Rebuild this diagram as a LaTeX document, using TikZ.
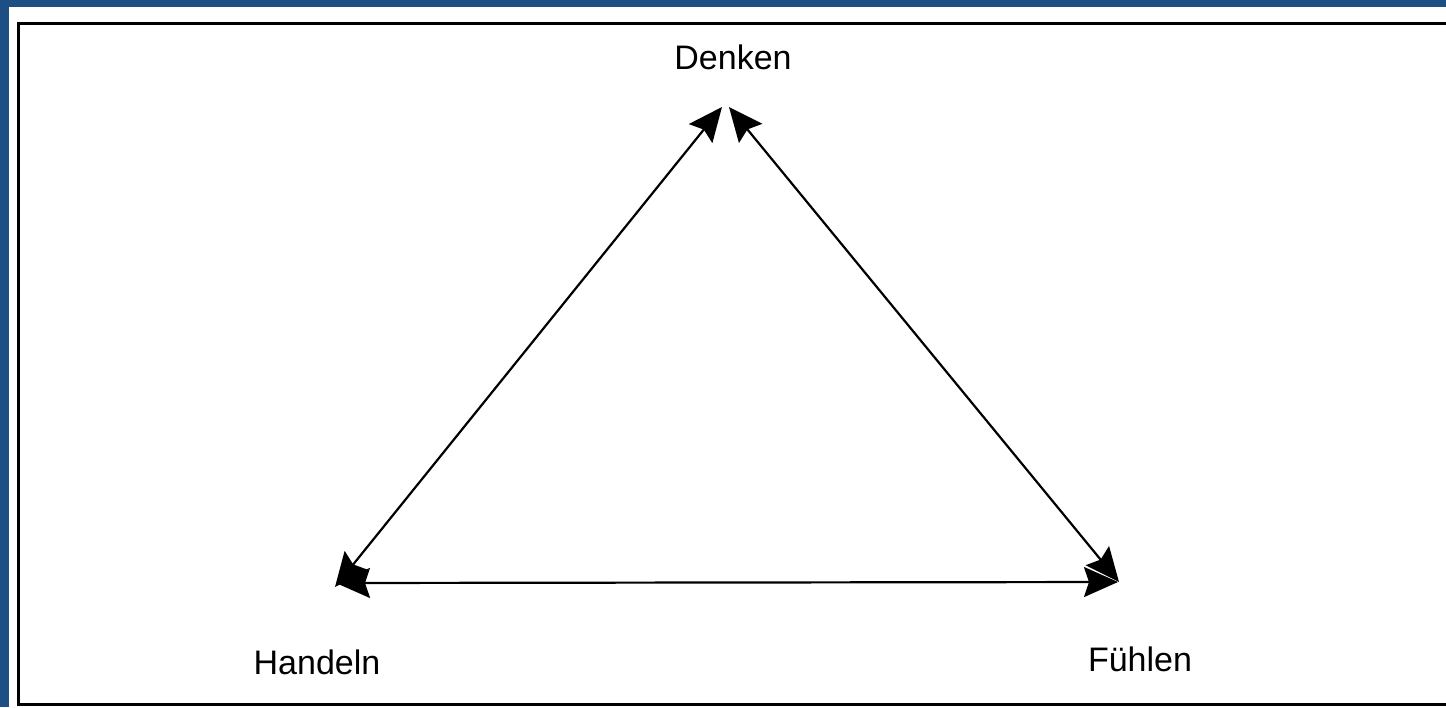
\documentclass[tikz,border=0pt]{standalone}
\usepackage{fontspec}
\setmainfont{Liberation Sans}
\usetikzlibrary{arrows.meta}
\definecolor{bgblue}{HTML}{1D4E84}
\tikzset{
  lbl/.style={inner sep=0pt, font=\fontsize{34}{40}\selectfont},
  dbl/.style={line width=2.2pt, {Stealth[length=34pt,width=30pt,inset=5pt]}-{Stealth[length=34pt,width=30pt,inset=5pt]}},
  frame/.style={line width=3pt, black}
}
\begin{document}
\begin{tikzpicture}[x=1pt,y=-1pt]
\useasboundingbox (0,0) rectangle (1446,707);
\fill[bgblue] (0,0) rectangle (1446,707);
\fill[white] (9,7) rectangle (1446,707);
\draw[frame] (1446,23) -- (18,23) -- (18,704) -- (1446,704);
\node[lbl] (denken) at (733,57) {Denken};
\node[lbl] (handeln) at (317,662) {Handeln};
\node[lbl] (fuehlen) at (1140,659) {Fühlen};
\coordinate (dl) at (722,107);
\coordinate (dr) at (729,107);
\coordinate (hl) at (335,587);
\coordinate (hh) at (336,583);
\coordinate (fr) at (1119,582);
\coordinate (fh) at (1118,582);
\draw[dbl] (hl) -- (dl);
\draw[dbl] (dr) -- (fr);
\draw[dbl] (hh) -- (fh);
\end{tikzpicture}
\end{document}
